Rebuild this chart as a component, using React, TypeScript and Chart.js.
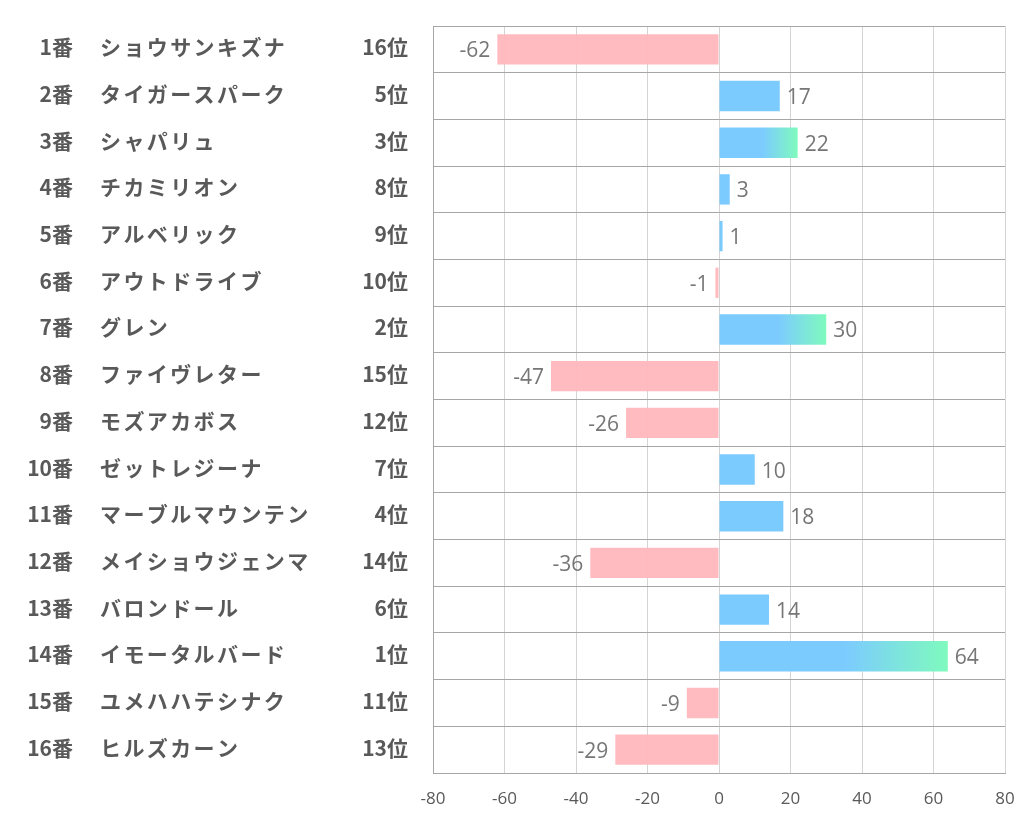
import React, { useEffect, useRef } from "react";
import { Chart, registerables } from "chart.js";

Chart.register(...registerables);

const numbers = ["1番","2番","3番","4番","5番","6番","7番","8番","9番","10番","11番","12番","13番","14番","15番","16番"];
const names = ["ショウサンキズナ","タイガースパーク","シャパリュ","チカミリオン","アルベリック","アウトドライブ","グレン","ファイヴレター","モズアカボス","ゼットレジーナ","マーブルマウンテン","メイショウジェンマ","バロンドール","イモータルバード","ユメハハテシナク","ヒルズカーン"];
const ranks = [16,5,3,8,9,10,2,15,12,7,4,14,6,1,11,13];
const values = [-62,17,22,3,1,-1,30,-47,-26,10,18,-36,14,64,-9,-29];
const xTicks = [-80,-60,-40,-20,0,20,40,60,80];

const PINK = "rgba(255,183,188,0.95)";
const BLUE = "rgb(124,203,255)";
const GREEN = "rgb(127,250,190)";

export default function App() {
  const ref = useRef<HTMLCanvasElement | null>(null);
  useEffect(() => {
    const canvas = ref.current;
    if (!canvas) return;
    const leftLabels = {
      id: "leftLabels",
      afterDraw(chart: any) {
        const ctx = chart.ctx;
        const y = chart.scales.y;
        ctx.save();
        ctx.fillStyle = "#595959";
        ctx.textBaseline = "middle";
        ctx.font = "bold 21px 'Noto Sans CJK JP'";
        numbers.forEach((n, i) => {
          const py = y.getPixelForValue(i) - 2;
          ctx.letterSpacing = "0px";
          ctx.textAlign = "right";
          ctx.fillText(n, 65, py);
          ctx.textAlign = "left";
          (ctx as any).letterSpacing = "2.4px";
          ctx.fillText(names[i], 92, py);
          (ctx as any).letterSpacing = "0px";
          ctx.textAlign = "right";
          ctx.fillText(ranks[i] + "位", 400, py);
        });
        ctx.restore();
      },
    };
    const valueLabels = {
      id: "valueLabels",
      afterDatasetsDraw(chart: any) {
        const ctx = chart.ctx;
        const meta = chart.getDatasetMeta(0);
        ctx.save();
        ctx.fillStyle = "#767676";
        ctx.font = "21px 'Open Sans'";
        ctx.textBaseline = "middle";
        meta.data.forEach((bar: any, i: number) => {
          const v = values[i];
          if (v >= 0) {
            ctx.textAlign = "left";
            ctx.fillText(String(v), bar.x + 7, bar.y + 2);
          } else {
            ctx.textAlign = "right";
            ctx.fillText(String(v), bar.x - 7, bar.y + 2);
          }
        });
        ctx.restore();
      },
    };
    const chart = new Chart(canvas, {
      type: "bar",
      data: {
        labels: names,
        datasets: [
          {
            data: values,
            backgroundColor: (c: any) => {
              const i = c.dataIndex;
              const v = values[i];
              if (v < 0) return PINK;
              if (ranks[i] <= 3) {
                const chart = c.chart;
                const xs = chart.scales.x;
                if (!xs || !chart.chartArea) return BLUE;
                const x0 = xs.getPixelForValue(0);
                const x1 = xs.getPixelForValue(v);
                const g = chart.ctx.createLinearGradient(x0, 0, x1, 0);
                g.addColorStop(0, BLUE);
                g.addColorStop(0.55, BLUE);
                g.addColorStop(1, GREEN);
                return g;
              }
              return BLUE;
            },
            borderWidth: 0,
            categoryPercentage: 1,
            barPercentage: 0.65,
          },
        ],
      },
      options: {
        indexAxis: "y",
        animation: false,
        responsive: false,
        layout: { padding: { left: 425, right: 9, top: 18, bottom: 13 } },
        plugins: { legend: { display: false }, tooltip: { enabled: false } },
        scales: {
          x: {
            min: -80,
            max: 80,
            afterBuildTicks: (s: any) => {
              s.ticks = xTicks.map((v) => ({ value: v }));
            },
            afterFit: (s: any) => {
              s.height = 40;
              s.paddingLeft = 0;
              s.paddingRight = 0;
            },
            grid: { color: "#d4d4d4", drawTicks: false },
            border: { display: true, color: "#a6a6a6" },
            ticks: {
              color: "#595959",
              padding: 16,
              font: { family: "'Open Sans'", size: 17 },
              maxRotation: 0,
            },
          },
          y: {
            afterFit: (s: any) => {
              s.width = 0;
            },
            grid: { color: "#a6a6a6", drawTicks: false, offset: true },
            border: { display: true, color: "#a6a6a6" },
            ticks: { display: false },
          },
        },
      },
      plugins: [leftLabels, valueLabels],
    } as any);
    return () => chart.destroy();
  }, []);
  return (
    <div style={{ width: 1006, height: 818 }}>
      <canvas ref={ref} width={1006} height={818} style={{ display: "block" }} />
    </div>
  );
}
